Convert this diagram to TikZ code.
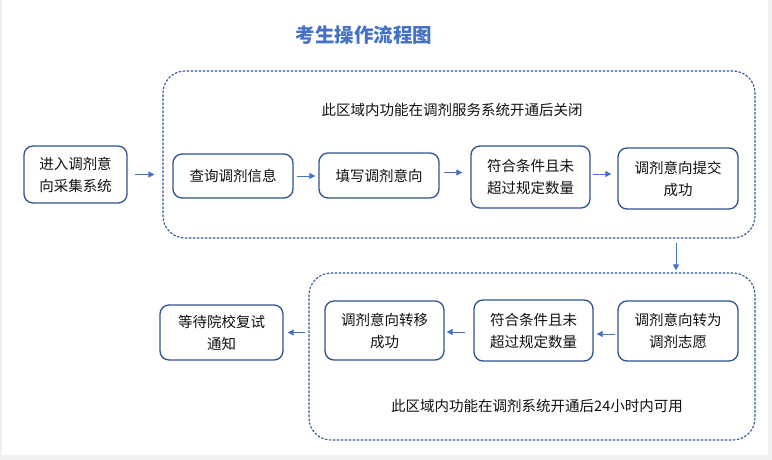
\documentclass[tikz,border=0pt]{standalone}
\usepackage{fontspec}
\setmainfont{Noto Sans CJK SC}
\usetikzlibrary{arrows.meta}
\definecolor{boxblue}{HTML}{2F528F}
\definecolor{arrblue}{HTML}{4472C4}
\definecolor{dashblue}{HTML}{2F5597}
\definecolor{titleblue}{HTML}{4472C4}
\definecolor{txt}{HTML}{111111}
\begin{document}
\begin{tikzpicture}[x=1pt,y=-1pt,
  stepbox/.style={draw=boxblue,line width=1.3pt,rounded corners=9pt,fill=white,
    align=center,inner sep=0pt,text=txt,font=\fontsize{14.5}{22}\selectfont},
  region/.style={draw=dashblue,line width=1.1pt,dash pattern=on 2.4pt off 1.6pt,
    rounded corners=22pt,inner sep=0pt},
  arr/.style={draw=arrblue,line width=0.9pt,-{Triangle[length=6pt,width=6pt]}},
  note/.style={text=txt,font=\fontsize{14.5}{18}\selectfont,inner sep=0pt}]
\useasboundingbox (0,0) rectangle (772,460);
\fill[black!6] (0,0) rectangle (772,460);
\fill[white] (2,0) rectangle (768,455);
\node[text=titleblue,font=\fontsize{19.5}{22}\selectfont\bfseries] (title) at (364,35) {考生操作流程图};
% regions
\node[region,minimum width=592pt,minimum height=167pt] (r1) at (459,154.5) {};
\node[region,minimum width=446pt,minimum height=167pt] (r2) at (532,356.5) {};
\node[note] (n1) at (452,110) {此区域内功能在调剂服务系统开通后关闭};
\node[note] (n2) at (537,406) {此区域内功能在调剂系统开通后24小时内可用};
% top row
\node[stepbox,minimum width=103pt,minimum height=57pt] (a) at (75.5,174.5) {进入调剂意\\向采集系统};
\node[stepbox,minimum width=120pt,minimum height=44pt] (q) at (233,176) {查询调剂信息};
\node[stepbox,minimum width=120pt,minimum height=45pt] (w) at (379,175.5) {填写调剂意向};
\node[stepbox,minimum width=119pt,minimum height=62pt] (f) at (530.5,177) {符合条件且未\\超过规定数量};
\node[stepbox,minimum width=120pt,minimum height=61pt] (s) at (678,178.5) {调剂意向提交\\成功};
% bottom row
\node[stepbox,minimum width=120pt,minimum height=60pt] (t) at (678,331) {调剂意向转为\\调剂志愿};
\node[stepbox,minimum width=119pt,minimum height=61pt] (f2) at (533.5,330.5) {符合条件且未\\超过规定数量};
\node[stepbox,minimum width=119pt,minimum height=59pt] (m) at (384.5,330.5) {调剂意向转移\\成功};
\node[stepbox,minimum width=123pt,minimum height=55pt] (wt) at (221.5,332.5) {等待院校复试\\通知};
% arrows
\draw[arr,shorten <=7pt,shorten >=8pt] (a.east) -- (a.east -| r1.west);
\draw[arr,shorten <=3pt,shorten >=3pt] (q.east) -- (q.east -| w.west);
\draw[arr,shorten <=4pt,shorten >=8pt] ([yshift=3pt]w.east) -- ([yshift=3pt]w.east -| f.west);
\draw[arr,shorten <=2pt,shorten >=6pt] ([yshift=3pt]f.east) -- ([yshift=3pt]f.east -| s.west);
\draw[arr,shorten <=4pt,shorten >=2pt] ([xshift=-2pt]r1.south -| s.south) -- ([xshift=-2pt]r2.north -| s.south);
\draw[arr,shorten <=2pt,shorten >=3pt] ([yshift=-3pt]t.west) -- ([yshift=-3pt]t.west -| f2.east);
\draw[arr,shorten <=8pt,shorten >=2pt] ([yshift=-1.5pt]f2.west) -- ([yshift=-1.5pt]f2.west -| m.east);
\draw[arr,shorten <=3pt,shorten >=4pt] (wt.east -| r2.west) -- (wt.east);
\end{tikzpicture}
\end{document}
